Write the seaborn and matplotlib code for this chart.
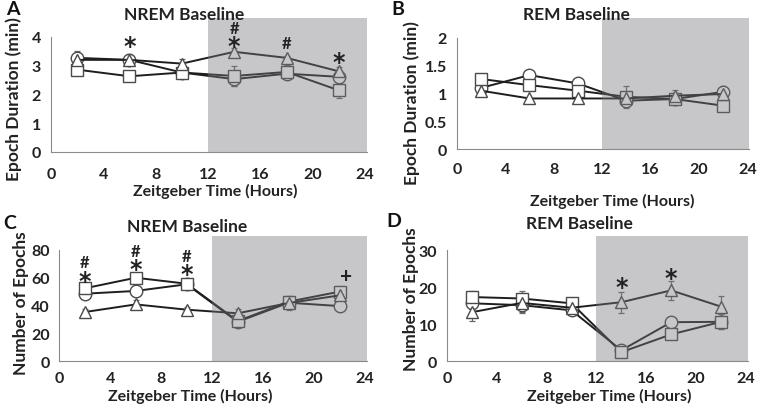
import matplotlib
matplotlib.use("Agg")
import matplotlib.pyplot as plt
import matplotlib.transforms as mtransforms
import seaborn as sns
import numpy as np
import pandas as pd

sns.set_style("white")
plt.rcParams['font.family'] = ['Lato', 'DejaVu Sans']
plt.rcParams['font.weight'] = 'bold'

# ---------------- data ----------------
zt = [2, 6, 10, 14, 18, 22]

# Panel A: NREM epoch duration (min)
a_circle = [3.27, 3.20, 2.76, 2.53, 2.72, 2.61]
a_square = [2.86, 2.63, 2.76, 2.64, 2.78, 2.14]
a_triangle = [3.20, 3.20, 3.07, 3.48, 3.27, 2.80]
a_circle_err = [0.25, 0.10, 0.08, 0.25, 0.12, 0.10]
a_square_err = [0.08, 0.05, 0.05, 0.35, 0.25, 0.25]
a_triangle_err = [0.10, 0.20, 0.15, 0.12, 0.08, 0.15]

# Panel B: REM epoch duration (min)
b_circle = [1.10, 1.33, 1.18, 0.87, 0.90, 1.03]
b_square = [1.26, 1.15, 1.05, 0.94, 0.90, 0.78]
b_triangle = [1.05, 0.91, 0.91, 0.91, 0.96, 0.99]
b_circle_err = [0.05, 0.04, 0.04, 0.10, 0.05, 0.10]
b_square_err = [0.04, 0.04, 0.04, 0.20, 0.05, 0.04]
b_triangle_err = [0.04, 0.03, 0.03, 0.10, 0.10, 0.05]

# Panel C: NREM number of epochs
c_circle = [48.5, 50.5, 55.3, 28.3, 42.0, 39.6]
c_square = [52.4, 60.0, 55.7, 28.8, 42.8, 50.0]
c_triangle = [35.3, 40.8, 37.0, 34.4, 41.8, 47.3]
c_circle_err = [2, 2, 2, 3, 3, 2]
c_square_err = [2, 2, 2, 4, 4, 4]
c_triangle_err = [2, 3, 2, 3, 5, 4]

# Panel D: REM number of epochs
d_circle = [15.6, 15.1, 13.7, 2.9, 10.5, 10.6]
d_square = [17.3, 16.9, 15.6, 2.4, 7.2, 10.6]
d_triangle = [13.2, 15.7, 14.4, 15.9, 19.1, 14.7]
d_circle_err = [1.5, 2.0, 1.0, 0.8, 1.5, 2.0]
d_square_err = [1.5, 2.0, 1.5, 1.0, 1.0, 2.0]
d_triangle_err = [2.5, 2.5, 2.0, 2.8, 2.5, 3.0]

# significance marks: (x, y, symbol)
a_marks = [(6, 3.85, '*'), (14, 3.85, '*'), (14, 4.38, '#'), (18, 3.85, '#'), (22, 3.3, '*')]
b_marks = []
c_marks = [(2, 61, '*'), (2, 73, '#'), (6, 69.7, '*'), (6, 80.5, '#'), (10, 66, '*'), (10, 77, '#'), (22.5, 61, '+')]
d_marks = [(14, 21.4, '*'), (18, 23.9, '*')]

panels = [
    dict(letter='A', title='NREM Baseline', ylabel='Epoch Duration (min)',
         series=[(a_circle, a_circle_err), (a_square, a_square_err), (a_triangle, a_triangle_err)],
         yticks=[0, 1, 2, 3, 4], yticklabels=['0', '1', '2', '3', '4'], ymax=4.66, marks=a_marks,
         pos=[0.067, 0.627, 0.416, 0.327], title_xy=(0.42, 1.03), letter_xy=(0.008, 0.976),
         xpad=7, ylab_xy=(-0.092, 0.40), xlab_xy=(0.52, -0.235)),
    dict(letter='B', title='REM Baseline', ylabel='Epoch Duration (min)',
         series=[(b_circle, b_circle_err), (b_square, b_square_err), (b_triangle, b_triangle_err)],
         yticks=[0, 0.5, 1, 1.5, 2], yticklabels=['0', '0.5', '1', '1.5', '2'], ymax=2.36, marks=b_marks,
         pos=[0.601, 0.634, 0.385, 0.320], title_xy=(0.41, 1.03), letter_xy=(0.515, 0.976),
         xpad=5, ylab_xy=(-0.127, 0.36), xlab_xy=(0.53, -0.336)),
    dict(letter='C', title='NREM Baseline', ylabel='Number of Epochs',
         series=[(c_circle, c_circle_err), (c_square, c_square_err), (c_triangle, c_triangle_err)],
         yticks=[0, 20, 40, 60, 80], yticklabels=['0', '20', '40', '60', '80'], ymax=90.1, marks=c_marks,
         pos=[0.078, 0.117, 0.405, 0.305], title_xy=(0.415, 1.08), letter_xy=(0.004, 0.456),
         xpad=3, ylab_xy=(-0.097, 0.47), xlab_xy=(0.425, -0.212)),
    dict(letter='D', title='REM Baseline', ylabel='Number of Epochs',
         series=[(d_circle, d_circle_err), (d_square, d_square_err), (d_triangle, d_triangle_err)],
         yticks=[0, 10, 20, 30], yticklabels=['0', '10', '20', '30'], ymax=33.8, marks=d_marks,
         pos=[0.588, 0.117, 0.396, 0.305], title_xy=(0.44, 1.10), letter_xy=(0.509, 0.459),
         xpad=3, ylab_xy=(-0.091, 0.50), xlab_xy=(0.54, -0.212)),
]

xticks = [0, 4, 8, 12, 16, 20, 24]
markers = ['o', 's', '^']
line_col = '#1e1e1e'
edge_col = '#4a4a4a'
txt_col = '#222222'

fig = plt.figure(figsize=(7.6, 4.1), dpi=100)

for p in panels:
    ax = fig.add_axes(p['pos'])
    for (vals, errs), m in zip(p['series'], markers):
        df = pd.DataFrame({'zt': zt, 'val': vals})
        ax.errorbar(zt, vals, yerr=errs, fmt='none', ecolor='#6a6a6a', elinewidth=0.9,
                    capsize=2.5, capthick=0.9, zorder=1.5)
        sns.lineplot(data=df, x='zt', y='val', ax=ax, color=line_col, linewidth=1.4,
                     marker=m, markersize=9 if m != 's' else 8.5, markerfacecolor='white',
                     markeredgecolor=edge_col, markeredgewidth=1.0, zorder=2)
    ax.axvspan(12, 24.15, ymin=0, ymax=1, color='#77787c', alpha=0.41, lw=0, zorder=4)
    ax.set_xlim(0, 24.15)
    ax.set_ylim(0, p['ymax'])
    ax.set_xticks(xticks)
    ax.set_xticklabels([str(t) for t in xticks], fontsize=11.5, fontweight='bold', color=txt_col)
    ax.set_yticks(p['yticks'])
    ax.set_yticklabels(p['yticklabels'], fontsize=11.5, fontweight='bold', color=txt_col)
    ax.tick_params(axis='x', direction='out', length=4, width=0.8, color='#8a8a8a', pad=p['xpad'])
    ax.tick_params(axis='y', direction='out', length=4, width=0.8, color='#8a8a8a', pad=3)
    for s in ['top', 'right']:
        ax.spines[s].set_visible(False)
    for s in ['left', 'bottom']:
        ax.spines[s].set_color('#8a8a8a')
        ax.spines[s].set_linewidth(0.8)
    ax.spines['left'].set_bounds(0, p['yticks'][-1])
    ax.set_xlabel('Zeitgeber Time (Hours)', fontsize=11.5, fontweight='bold', color=txt_col)
    ax.set_ylabel(p['ylabel'], fontsize=12.5, fontweight='bold', color=txt_col)
    ax.xaxis.set_label_coords(*p['xlab_xy'])
    ax.yaxis.set_label_coords(*p['ylab_xy'])
    ax.text(p['title_xy'][0], p['title_xy'][1], p['title'], transform=ax.transAxes,
            ha='center', va='center', fontsize=12.5, fontweight='bold', color=txt_col, zorder=6)
    star_tr = mtransforms.offset_copy(ax.transData, fig=fig, x=0, y=-5, units='dots')
    hash_tr = mtransforms.offset_copy(ax.transData, fig=fig, x=0, y=-2, units='dots')
    for (mx, my, sym) in p['marks']:
        if sym == '*':
            ax.text(mx, my, sym, ha='center', va='center', fontsize=17, fontweight='bold',
                    color=txt_col, zorder=6, family=['DejaVu Sans'], transform=star_tr)
        elif sym == '#':
            ax.text(mx, my, sym, ha='center', va='center', fontsize=12, fontweight='bold',
                    color=txt_col, zorder=6, transform=hash_tr)
        else:
            ax.text(mx, my, sym, ha='center', va='center', fontsize=15, fontweight='bold',
                    color=txt_col, zorder=6)
    fig.text(p['letter_xy'][0], p['letter_xy'][1], p['letter'], fontsize=14, fontweight='bold',
             color='#111111', ha='left', va='center')

fig.savefig('out.png', dpi=100)
